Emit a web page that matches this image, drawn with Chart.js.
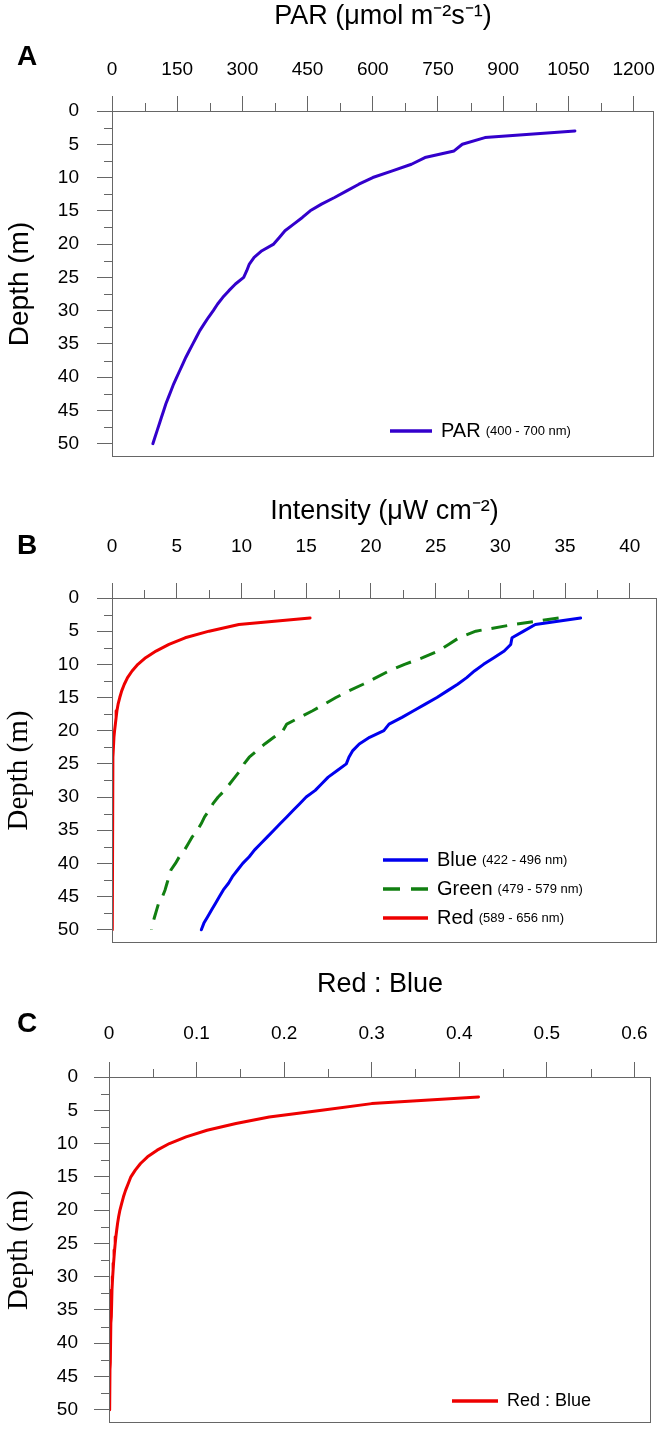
<!DOCTYPE html>
<html>
<head>
<meta charset="utf-8">
<script src="https://cdn.jsdelivr.net/npm/chart.js@4.4.1/dist/chart.umd.min.js"></script>
<style>
    body { margin: 0; background: #fff; width: 663px; height: 1430px; position: relative; overflow: hidden; }
    .panel { position: absolute; left: 0; width: 663px; }
    .letter { position: absolute; font: bold 28px "Liberation Sans", Arial, sans-serif; line-height: 28px; color: #000; }
    .legend { position: absolute; font-family: "Liberation Sans", Arial, sans-serif; color: #000; }
    .legend .row { display: flex; align-items: center; height: 29px; white-space: nowrap; }
    .legend svg { margin-right: 9px; }
    .legend .big { font-size: 20px; }
    .legend .small { font-size: 13px; margin-left: 5px; }
</style>
</head>
<body>
<div class="panel" style="top:0;height:470px"><canvas id="chartA"></canvas></div>
<div class="panel" style="top:480px;height:470px"><canvas id="chartB"></canvas></div>
<div class="panel" style="top:960px;height:470px"><canvas id="chartC"></canvas></div>
<div class="letter" style="left:17px;top:42px">A</div>
<div class="letter" style="left:17px;top:531px">B</div>
<div class="letter" style="left:17px;top:1009px">C</div>
<div class="legend" id="legendA" style="left:390px;top:416px"></div>
<div class="legend" id="legendB" style="left:383px;top:845px"></div>
<div class="legend" id="legendC" style="left:452px;top:1386px"></div>

<script>
// depth of each reading (m)
const depths = [3, 4, 5, 6, 7, 8, 9, 10, 11, 12, 13, 14, 15, 16, 17, 18, 19, 20, 21, 22, 23, 24, 25, 26,
    27, 28, 29, 30, 31, 32, 33, 34, 35, 36, 37, 38, 39, 40, 41, 42, 43, 44, 45, 46, 47, 48, 49, 50];

// PAR (umol m-2 s-1)
const parValues = [1065, 858, 806, 787, 720, 689, 645, 600, 568, 540, 512, 482, 456, 438, 418, 398, 385, 372,
    345, 327, 316, 310, 303, 284, 269, 255, 243, 233, 222, 212, 202, 194, 186, 178, 170, 163, 156, 149,
    142, 136, 130, 124, 119, 114, 109, 104, 99, 94];

// intensity (uW cm-2)
const blueValues = [36.2, 32.7, 31.8, 30.9, 30.8, 30.3, 29.5, 28.7, 28.0, 27.4, 26.7, 25.9, 25.1, 24.2, 23.3,
    22.4, 21.4, 21.0, 19.9, 19.1, 18.6, 18.3, 18.1, 17.4, 16.7, 16.2, 15.7, 15.0, 14.5, 14.0, 13.5, 13.0,
    12.5, 12.0, 11.5, 11.0, 10.6, 10.1, 9.7, 9.3, 9.0, 8.6, 8.3, 8.0, 7.7, 7.4, 7.1, 6.9];
const greenValues = [34.5, 31.0, 28.1, 26.8, 26.0, 25.2, 24.0, 22.6, 21.4, 20.4, 19.4, 18.3, 17.3, 16.4, 15.5,
    14.5, 13.5, 13.2, 12.5, 11.8, 11.2, 10.6, 10.2, 9.9, 9.5, 9.1, 8.7, 8.2, 7.8, 7.5, 7.15, 6.9, 6.6,
    6.2, 5.9, 5.6, 5.2, 4.9, 4.55, 4.4, 4.25, 4.1, 3.9, 3.6, 3.45, 3.3, 3.15, 3.05];
const redValues = [15.3, 9.8, 7.5, 5.65, 4.4, 3.4, 2.6, 2.0, 1.55, 1.2, 0.95, 0.75, 0.6, 0.47, 0.38, 0.32,
    0.26, 0.2, 0.15, 0.11, 0.085, 0.07, 0.06, 0.05, 0.045, 0.04, 0.036, 0.032, 0.029, 0.026, 0.024, 0.022,
    0.02, 0.018, 0.017, 0.016, 0.015, 0.014, 0.013, 0.012, 0.011, 0.01, 0.01, 0.009, 0.009, 0.008, 0.008, 0.007];

// red : blue ratio
const ratioValues = [0.422, 0.300, 0.243, 0.183, 0.145, 0.112, 0.088, 0.069, 0.055, 0.044, 0.036, 0.030,
    0.025, 0.022, 0.019, 0.0165, 0.0145, 0.0125, 0.011, 0.0098, 0.0088, 0.0079, 0.0071, 0.0064, 0.0058,
    0.0052, 0.0047, 0.0042, 0.0038, 0.0034, 0.0031, 0.0028, 0.0025, 0.0023, 0.0021, 0.0019, 0.0017,
    0.0015, 0.0014, 0.0013, 0.0012, 0.0011, 0.001, 0.0009, 0.0008, 0.0007, 0.0006, 0.0005];

// tick labels
const depthTicks = [0, 5, 10, 15, 20, 25, 30, 35, 40, 45, 50];
const parTicks = [0, 150, 300, 450, 600, 750, 900, 1050, 1200];
const intensityTicks = [0, 5, 10, 15, 20, 25, 30, 35, 40];
const ratioTicks = [0, 0.1, 0.2, 0.3, 0.4, 0.5, 0.6];

const axisColour = '#666';
const sans = '"Liberation Sans", Arial, sans-serif';
const serif = '"Liberation Serif", "Times New Roman", serif';

Chart.defaults.font.family = sans;
Chart.defaults.color = '#000';

function points(values) {
    return values.map((v, i) => ({x: v, y: depths[i]}));
}

// box round the plot and the short in-between ticks
const frame = {
    id: 'frame',
    afterDraw(chart) {
        const {ctx, chartArea: a, scales: {x, y}} = chart;
        ctx.save();
        ctx.strokeStyle = axisColour;
        ctx.lineWidth = 1;
        ctx.strokeRect(a.left + 0.5, a.top + 0.5, a.right - a.left - 1, a.bottom - a.top - 1);
        ctx.beginPath();
        for (let i = 0; i < x.ticks.length - 1; i++) {
            const px = Math.round(x.getPixelForValue((x.ticks[i].value + x.ticks[i + 1].value) / 2)) + 0.5;
            ctx.moveTo(px, a.top);
            ctx.lineTo(px, a.top - 8);
        }
        for (let i = 0; i < y.ticks.length - 1; i++) {
            const py = Math.round(y.getPixelForValue((y.ticks[i].value + y.ticks[i + 1].value) / 2)) + 0.5;
            ctx.moveTo(a.left, py);
            ctx.lineTo(a.left - 8, py);
        }
        ctx.stroke();
        ctx.restore();
    }
};

function chart(id, panel, datasets) {
    const ctx = document.getElementById(id);
    return new Chart(ctx, {
        type: 'line',
        data: {datasets: datasets},
        options: {
            responsive: true,
            maintainAspectRatio: false,
            animation: false,
            layout: {autoPadding: false, padding: {left: 0, top: 0, right: panel.padRight, bottom: panel.padBottom}},
            plugins: {legend: {display: false}, tooltip: {enabled: false}},
            elements: {point: {radius: 0}, line: {tension: 0, borderCapStyle: 'round', borderJoinStyle: 'round'}},
            scales: {
                x: {
                    type: 'linear',
                    position: 'top',
                    min: 0,
                    max: panel.xMax,
                    afterBuildTicks: (axis) => { axis.ticks = panel.xTicks.map(v => ({value: v})); },
                    afterFit: (axis) => {
                        axis.height = panel.xHeight;
                        axis.paddingLeft = 0;
                        axis.paddingRight = 0;
                    },
                    border: {display: false},
                    grid: {drawOnChartArea: false, tickLength: 15, color: axisColour, tickColor: axisColour},
                    ticks: {font: {size: 19}, padding: panel.xTickPad, maxRotation: 0, autoSkip: false,
                        callback: (v) => String(v)},
                    title: {display: true, text: panel.title, font: {size: 27}, padding: {top: panel.titlePad, bottom: 0}}
                },
                y: {
                    type: 'linear',
                    reverse: true,
                    min: 0,
                    max: 52,
                    afterBuildTicks: (axis) => { axis.ticks = depthTicks.map(v => ({value: v})); },
                    afterFit: (axis) => {
                        axis.width = panel.yWidth;
                        axis.paddingTop = 0;
                        axis.paddingBottom = 0;
                    },
                    border: {display: false},
                    grid: {drawOnChartArea: false, tickLength: 15, color: axisColour, tickColor: axisColour},
                    ticks: {font: {size: 19}, padding: panel.yTickPad, autoSkip: false, callback: (v) => String(v)},
                    title: {display: true, text: 'Depth (m)', font: {size: panel.yTitleSize, family: panel.yFont},
                        padding: {top: panel.yTitlePad, bottom: 0}}
                }
            }
        },
        plugins: [frame]
    });
}

function legend(id, items) {
    const box = document.getElementById(id);
    for (const item of items) {
        const row = document.createElement('div');
        row.className = 'row';
        const dash = item.dash ? ` stroke-dasharray="${item.dash.join(' ')}"` : '';
        row.innerHTML = `<svg width="${item.len}" height="6"><line x1="0" y1="3" x2="${item.len}" y2="3" stroke="${item.colour}" stroke-width="3.5"${dash}/></svg>` +
            `<span class="big" style="font-size:${item.size || 20}px">${item.name}</span>` +
            (item.note ? `<span class="small">${item.note}</span>` : '');
        box.appendChild(row);
    }
}

const parColour = '#3300cc';
const blueColour = '#0000ee';
const greenColour = '#117f11';
const redColour = '#ee0000';

chart('chartA', {title: 'PAR (μmol m⁻²s⁻¹)', xMax: 1247, xTicks: parTicks, xHeight: 111, titlePad: 0, xTickPad: 15,
    yWidth: 112, yTickPad: 18, yFont: sans, yTitleSize: 28, yTitlePad: 3, padRight: 9, padBottom: 13}, [
    {label: 'PAR', data: points(parValues), borderColor: parColour, borderWidth: 3}
]);

chart('chartB', {title: 'Intensity (μW cm⁻²)', xMax: 42.1, xTicks: intensityTicks, xHeight: 118, titlePad: 15, xTickPad: 25,
    yWidth: 112, yTickPad: 18, yFont: serif, yTitleSize: 29, yTitlePad: 2, padRight: 6, padBottom: 7}, [
    {label: 'Blue', data: points(blueValues), borderColor: blueColour, borderWidth: 3},
    {label: 'Green', data: points(greenValues), borderColor: greenColour, borderWidth: 3, borderDash: [16, 10], borderCapStyle: 'butt'},
    {label: 'Red', data: points(redValues), borderColor: redColour, borderWidth: 3}
]);

chart('chartC', {title: 'Red : Blue', xMax: 0.619, xTicks: ratioTicks, xHeight: 117, titlePad: 8, xTickPad: 17,
    yWidth: 109, yTickPad: 16, yFont: serif, yTitleSize: 29, yTitlePad: 2, padRight: 12, padBottom: 7}, [
    {label: 'Red : Blue', data: points(ratioValues), borderColor: redColour, borderWidth: 3}
]);

legend('legendA', [{name: 'PAR', note: '(400 - 700 nm)', colour: parColour, len: 42}]);
legend('legendB', [
    {name: 'Blue', note: '(422 - 496 nm)', colour: blueColour, len: 45},
    {name: 'Green', note: '(479 - 579 nm)', colour: greenColour, len: 45, dash: [17, 11]},
    {name: 'Red', note: '(589 - 656 nm)', colour: redColour, len: 45}
]);
legend('legendC', [{name: 'Red : Blue', colour: redColour, len: 46, size: 18}]);
</script>
</body>
</html>
